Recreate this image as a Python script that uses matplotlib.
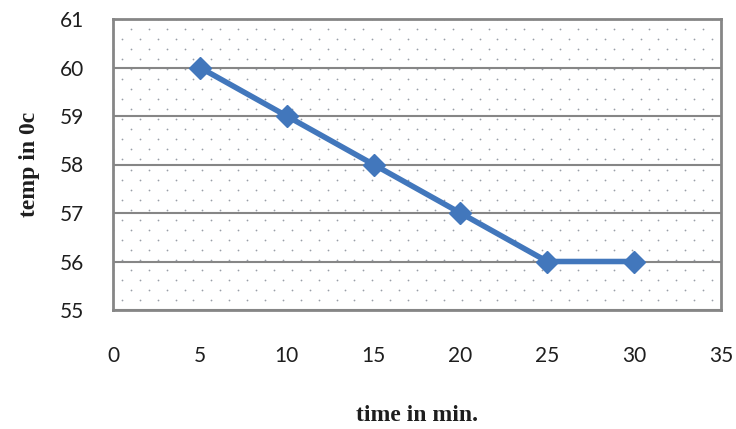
import numpy as np
import matplotlib
matplotlib.use("Agg")
import matplotlib.pyplot as plt

# data
time_min = [5, 10, 15, 20, 25, 30]
temp_c = [60, 59, 58, 57, 56, 56]
x_ticks = [0, 5, 10, 15, 20, 25, 30, 35]
y_ticks = [55, 56, 57, 58, 59, 60, 61]

LINE_BLUE = "#4277bc"
GRID_GREY = "#868686"

fig = plt.figure(figsize=(7.36, 4.29), dpi=100)
ax = fig.add_axes([113 / 736, 1 - 310 / 429, (721 - 113) / 736, (310 - 19) / 429])

# dotted background texture (Excel style fill)
cols = np.linspace(0, 1, 35)
rows = np.linspace(0, 1, 30)
gx, gy = np.meshgrid(cols, rows)
gx = gx + (np.arange(len(rows))[:, None] % 2) * (cols[1] - cols[0]) / 2
keep = gx < 1
ax.scatter(gx[keep], gy[keep], s=1.6, color="#9a9fa8", linewidths=0,
           transform=ax.transAxes, zorder=0, clip_on=True)

ax.set_xlim(0, 35)
ax.set_ylim(55, 61)
ax.set_xticks(x_ticks)
ax.set_yticks(y_ticks)
ax.yaxis.grid(True, color=GRID_GREY, linewidth=1.5)
ax.set_axisbelow(True)

for side in ax.spines.values():
    side.set_color(GRID_GREY)
    side.set_linewidth(2)

ax.tick_params(axis="both", length=0, labelsize=15, labelcolor="#1e1e1e")
ax.tick_params(axis="x", pad=26)
ax.tick_params(axis="y", pad=21)
for lbl in ax.get_xticklabels() + ax.get_yticklabels():
    lbl.set_family("Lato")

ax.plot(time_min, temp_c, color=LINE_BLUE, linewidth=4, marker="D",
        markersize=11.5, markerfacecolor=LINE_BLUE, markeredgecolor=LINE_BLUE,
        zorder=3)

ax.set_xlabel("time in min.", fontfamily="Liberation Serif", fontweight="bold",
              fontsize=17, labelpad=28, color="#1e1e1e")
ax.set_ylabel("temp in 0c", fontfamily="Liberation Serif", fontweight="bold",
              fontsize=17, labelpad=14, color="#1e1e1e")

fig.savefig("out.png", dpi=100)
